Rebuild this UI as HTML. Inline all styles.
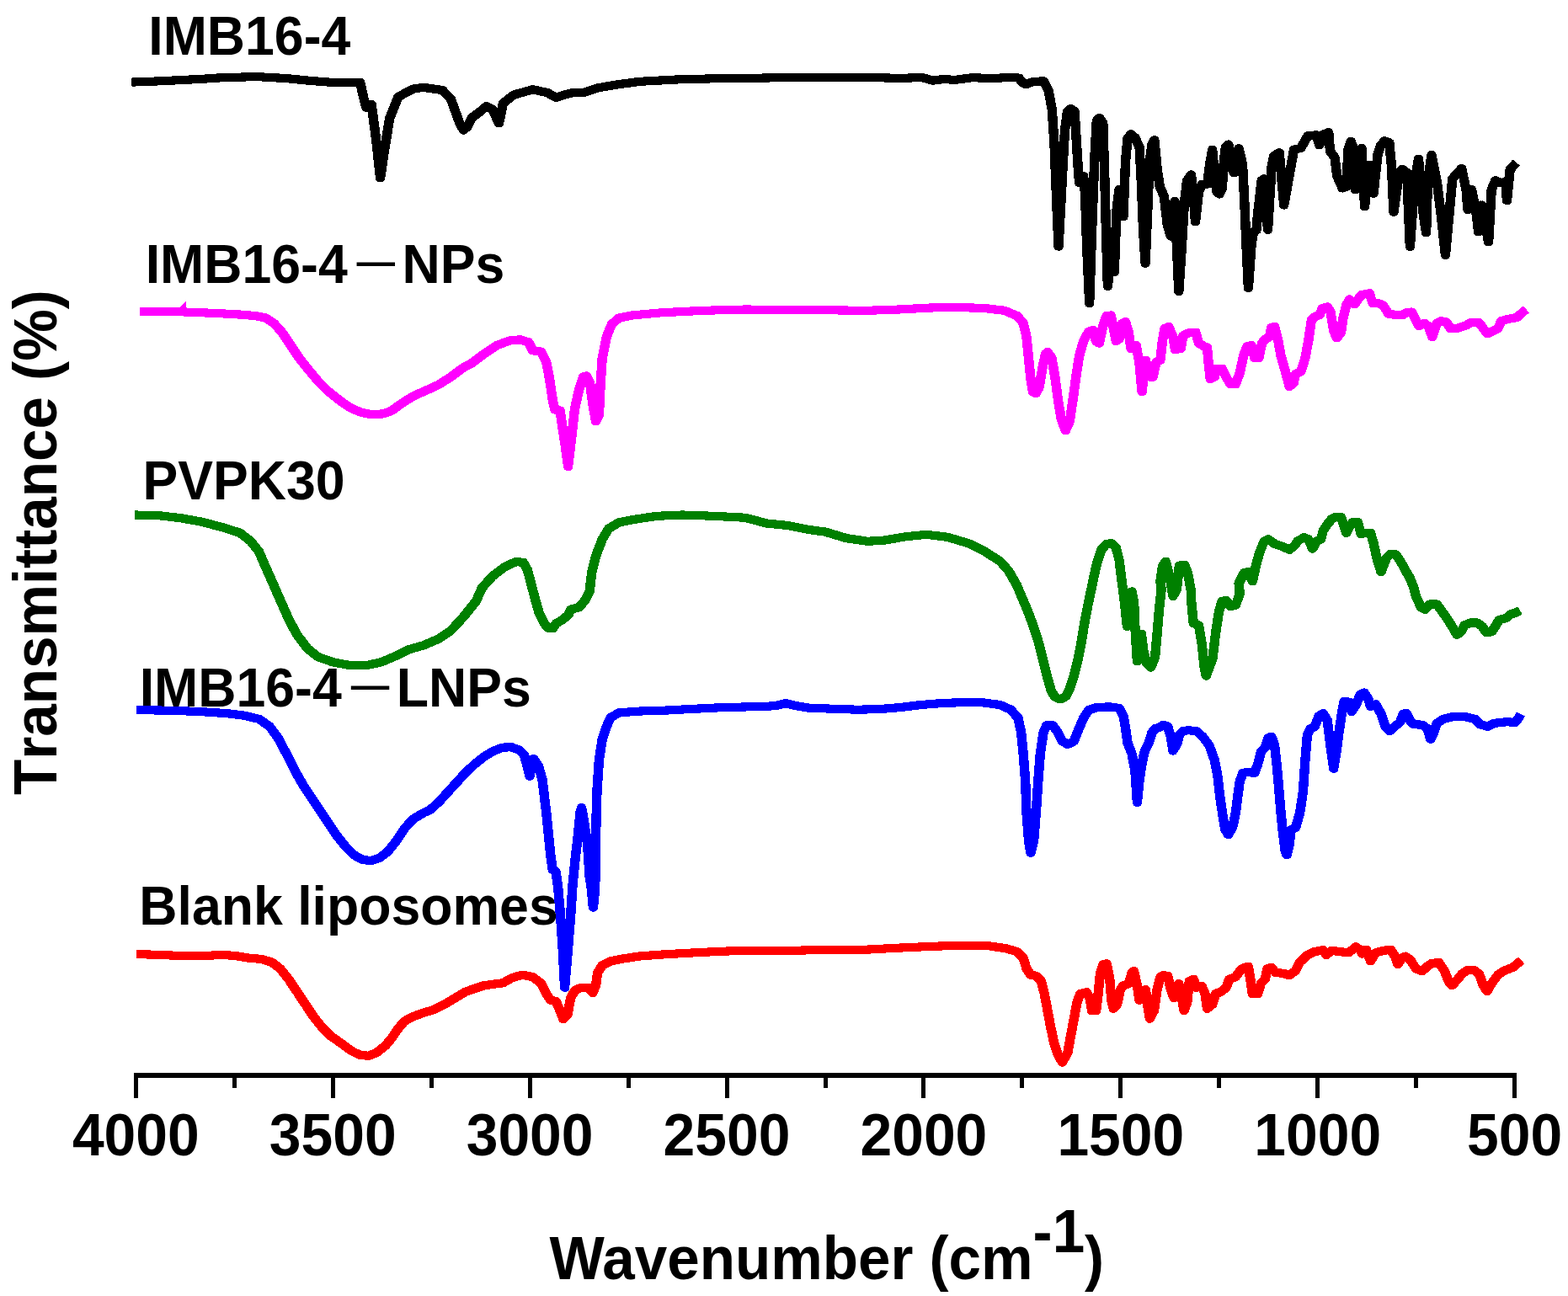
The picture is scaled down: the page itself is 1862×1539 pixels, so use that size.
<!DOCTYPE html>
<html lang="en">
<head>
<meta charset="utf-8">
<title>FTIR spectra</title>
<style>
html,body{margin:0;padding:0;background:#fff;}
body{width:1862px;height:1539px;overflow:hidden;}
svg{display:block;}
text{font-family:"Liberation Sans","Noto Sans CJK SC",sans-serif;font-weight:bold;fill:#000;font-kerning:none;}
.tick{font-size:67.8px;text-anchor:middle;}
.lab{font-size:62.6px;}
.ttl{font-size:69.2px;}
.kern{font-kerning:normal;}
.sup{font-size:69.2px;}
.curve{fill:none;stroke-width:10.1;stroke-linejoin:round;stroke-linecap:butt;}
.dash{font-weight:normal;}
</style>
</head>
<body>
<svg width="1862" height="1539" viewBox="0 0 1862 1539">
<rect x="0" y="0" width="1862" height="1539" fill="#ffffff"/>
<text class="lab" transform="translate(176.3,65) scale(1,1.04)">IMB16-4</text>
<text class="lab" transform="translate(172.7,336) scale(1,1.04)">IMB16-4<tspan class="dash" dx="2.2" dy="1.8">－</tspan><tspan dx="0" dy="-1.8">NPs</tspan></text>
<text class="lab" transform="translate(169.5,592.8) scale(1,1.04)">PVPK30</text>
<text class="lab" transform="translate(165.7,839) scale(1,1.04)">IMB16-4<tspan class="dash" dx="2.5" dy="1.8">－</tspan><tspan dx="0" dy="-1.8">LNPs</tspan></text>
<text class="lab" transform="translate(165.3,1098) scale(1,1.04)">Blank liposomes</text>
<text class="ttl kern" transform="translate(652.5,1519) scale(1,1.04)">Wavenumber (cm<tspan class="sup" dy="-31">-1</tspan><tspan dy="31">)</tspan></text>
<text class="ttl" transform="translate(67,944) rotate(-90) scale(1,1.04)">Transmittance (%)</text>
<text class="tick" transform="translate(161.3,1372) scale(1,1.04)">4000</text>
<text class="tick" transform="translate(395.2,1372) scale(1,1.04)">3500</text>
<text class="tick" transform="translate(629.1,1372) scale(1,1.04)">3000</text>
<text class="tick" transform="translate(863,1372) scale(1,1.04)">2500</text>
<text class="tick" transform="translate(1096.9,1372) scale(1,1.04)">2000</text>
<text class="tick" transform="translate(1330.8,1372) scale(1,1.04)">1500</text>
<text class="tick" transform="translate(1564.7,1372) scale(1,1.04)">1000</text>
<text class="tick" transform="translate(1798.6,1372) scale(1,1.04)">500</text>
<polyline class="curve" shape-rendering="crispEdges" stroke="#ff0000" points="162.35,1133.1 189.45,1133.9 214.45,1135.1 239.45,1135.1 264.45,1133.9 279.45,1135.1 294.55,1137.6 309.55,1138.9 322.05,1142.6 332.05,1150.2 342.05,1162.7 352.05,1177.7 362.05,1192.7 372.05,1207.7 382.05,1220.2 392.15,1230.2 404.65,1239 417.15,1248.2 427.15,1253 437.15,1253.8 447.15,1249.7 457.15,1241.5 464.65,1232.7 472.15,1221.5 479.65,1212.7 489.75,1207.2 502.25,1202.7 514.75,1198.9 527.25,1192.7 539.75,1185.2 552.25,1177.7 559.35,1175.2 574.35,1170.2 596.85,1167.2 606.85,1161.4 619.45,1157.7 631.95,1160.2 641.95,1167.7 648.15,1180.2 653.15,1187.7 659.45,1188.9 664.45,1200.2 668.25,1210.2 673.25,1205.2 676.95,1185.2 681.95,1176.4 689.45,1172.7 698.25,1172.7 703.25,1178.9 706.95,1170.2 708.95,1155.2 714.55,1146.4 724.55,1141.4 739.55,1138.4 759.55,1135.4 784.55,1133.6 809.65,1132.1 834.65,1130.8 872.15,1129.1 934.75,1128.9 972.25,1128.1 979.35,1128.1 1029.45,1127.6 1066.95,1125.6 1104.45,1123.9 1142.05,1122.6 1174.55,1123.4 1194.55,1126.4 1207.05,1130.1 1214.55,1137.6 1218.35,1150.2 1223.35,1157.7 1229.65,1158.9 1235.85,1165.2 1239.65,1180.2 1243.35,1200.2 1247.15,1220.2 1250.85,1237.7 1255.85,1252.8 1260.85,1261.5 1267.15,1250.3 1270.85,1230.2 1274.65,1210.2 1278.35,1190.2 1282.15,1180.2 1289.65,1178.2 1293.45,1185.2 1295.95,1200.2 1300.95,1200.2 1303.45,1180.2 1305.95,1155.2 1309.65,1145.1 1313.45,1144.4 1317.15,1162.7 1319.15,1187.7 1321.65,1197.7 1325.95,1192.7 1329.75,1175.2 1333.45,1170.2 1339.75,1168.2 1343.45,1155.2 1345.95,1153.2 1349.75,1170.2 1352.25,1187.7 1355.95,1180.2 1359.75,1175.2 1362.25,1195.2 1364.75,1209.7 1369.75,1200.2 1373.45,1175.2 1377.25,1160.2 1381.05,1158.2 1386.05,1158.9 1389.75,1175.2 1393.55,1185.2 1397.35,1172.7 1399.15,1168.2 1402.85,1185.2 1405.35,1200.2 1409.15,1190.2 1411.65,1165.2 1416.65,1162.7 1420.35,1172.7 1426.65,1171.4 1430.35,1180.2 1432.85,1197.7 1439.15,1192.7 1442.85,1180.2 1449.15,1177.7 1455.45,1172.7 1459.15,1162.7 1466.65,1160.2 1472.95,1151.4 1477.95,1148.9 1481.65,1147.6 1484.15,1162.7 1486.65,1180.2 1492.95,1180.2 1496.75,1167.7 1501.75,1162.7 1504.25,1150.2 1509.25,1148.9 1514.25,1155.2 1522.95,1155.7 1530.45,1158.2 1537.95,1152.7 1542.95,1142.6 1550.55,1135.1 1560.55,1130.1 1570.55,1128.1 1574.25,1133.9 1580.55,1128.9 1590.55,1130.1 1600.55,1131.4 1605.55,1127.6 1609.35,1124.4 1614.35,1127.6 1616.85,1132.6 1621.85,1127.6 1626.85,1141.4 1633.05,1131.4 1641.85,1128.9 1650.65,1127.6 1655.65,1135.1 1659.35,1145.1 1664.35,1137.6 1668.15,1135.6 1674.35,1140.1 1680.65,1150.2 1688.15,1153.2 1694.35,1147.6 1699.45,1143.9 1708.15,1143.1 1714.45,1152.7 1719.45,1165.2 1723.65,1170.2 1729.45,1163.9 1735.65,1156.4 1741.95,1152.2 1749.45,1151.9 1755.75,1156.4 1760.75,1170.2 1765.25,1177.2 1770.75,1167.7 1778.25,1157.7 1785.75,1152.7 1795.75,1148.9 1805.75,1140.6"/>
<polyline class="curve" shape-rendering="crispEdges" stroke="#ff0000" points="163.65,1133.1 190.75,1133.9 215.75,1135.1 240.75,1135.1 265.75,1133.9 280.75,1135.1 295.85,1137.6 310.85,1138.9 323.35,1142.6 333.35,1150.2 343.35,1162.7 353.35,1177.7 363.35,1192.7 373.35,1207.7 383.35,1220.2 393.45,1230.2 405.95,1239 418.45,1248.2 428.45,1253 438.45,1253.8 448.45,1249.7 458.45,1241.5 465.95,1232.7 473.45,1221.5 480.95,1212.7 491.05,1207.2 503.55,1202.7 516.05,1198.9 528.55,1192.7 541.05,1185.2 553.55,1177.7 560.65,1175.2 575.65,1170.2 598.15,1167.2 608.15,1161.4 620.75,1157.7 633.25,1160.2 643.25,1167.7 649.45,1180.2 654.45,1187.7 660.75,1188.9 665.75,1200.2 669.55,1210.2 674.55,1205.2 678.25,1185.2 683.25,1176.4 690.75,1172.7 699.55,1172.7 704.55,1178.9 708.25,1170.2 710.25,1155.2 715.85,1146.4 725.85,1141.4 740.85,1138.4 760.85,1135.4 785.85,1133.6 810.95,1132.1 835.95,1130.8 873.45,1129.1 936.05,1128.9 973.55,1128.1 980.65,1128.1 1030.75,1127.6 1068.25,1125.6 1105.75,1123.9 1143.35,1122.6 1175.85,1123.4 1195.85,1126.4 1208.35,1130.1 1215.85,1137.6 1219.65,1150.2 1224.65,1157.7 1230.95,1158.9 1237.15,1165.2 1240.95,1180.2 1244.65,1200.2 1248.45,1220.2 1252.15,1237.7 1257.15,1252.8 1262.15,1261.5 1268.45,1250.3 1272.15,1230.2 1275.95,1210.2 1279.65,1190.2 1283.45,1180.2 1290.95,1178.2 1294.75,1185.2 1297.25,1200.2 1302.25,1200.2 1304.75,1180.2 1307.25,1155.2 1310.95,1145.1 1314.75,1144.4 1318.45,1162.7 1320.45,1187.7 1322.95,1197.7 1327.25,1192.7 1331.05,1175.2 1334.75,1170.2 1341.05,1168.2 1344.75,1155.2 1347.25,1153.2 1351.05,1170.2 1353.55,1187.7 1357.25,1180.2 1361.05,1175.2 1363.55,1195.2 1366.05,1209.7 1371.05,1200.2 1374.75,1175.2 1378.55,1160.2 1382.35,1158.2 1387.35,1158.9 1391.05,1175.2 1394.85,1185.2 1398.65,1172.7 1400.45,1168.2 1404.15,1185.2 1406.65,1200.2 1410.45,1190.2 1412.95,1165.2 1417.95,1162.7 1421.65,1172.7 1427.95,1171.4 1431.65,1180.2 1434.15,1197.7 1440.45,1192.7 1444.15,1180.2 1450.45,1177.7 1456.75,1172.7 1460.45,1162.7 1467.95,1160.2 1474.25,1151.4 1479.25,1148.9 1482.95,1147.6 1485.45,1162.7 1487.95,1180.2 1494.25,1180.2 1498.05,1167.7 1503.05,1162.7 1505.55,1150.2 1510.55,1148.9 1515.55,1155.2 1524.25,1155.7 1531.75,1158.2 1539.25,1152.7 1544.25,1142.6 1551.85,1135.1 1561.85,1130.1 1571.85,1128.1 1575.55,1133.9 1581.85,1128.9 1591.85,1130.1 1601.85,1131.4 1606.85,1127.6 1610.65,1124.4 1615.65,1127.6 1618.15,1132.6 1623.15,1127.6 1628.15,1141.4 1634.35,1131.4 1643.15,1128.9 1651.95,1127.6 1656.95,1135.1 1660.65,1145.1 1665.65,1137.6 1669.45,1135.6 1675.65,1140.1 1681.95,1150.2 1689.45,1153.2 1695.65,1147.6 1700.75,1143.9 1709.45,1143.1 1715.75,1152.7 1720.75,1165.2 1724.95,1170.2 1730.75,1163.9 1736.95,1156.4 1743.25,1152.2 1750.75,1151.9 1757.05,1156.4 1762.05,1170.2 1766.55,1177.2 1772.05,1167.7 1779.55,1157.7 1787.05,1152.7 1797.05,1148.9 1807.05,1140.6"/>
<polyline class="curve" shape-rendering="crispEdges" stroke="#0000ff" points="162.35,843.2 201.95,843.7 239.45,845.2 269.45,847.2 289.55,849.7 307.05,853.9 319.55,862.7 329.55,876.4 339.55,895.2 349.55,915.2 359.55,932.7 369.55,947.8 379.55,962.8 389.65,977.8 399.65,992.8 409.65,1005.3 419.65,1015.3 429.65,1020.8 439.65,1022.1 449.65,1019.1 459.65,1011.6 469.65,999.1 479.65,984 489.75,972.8 502.25,965.3 510.05,961.7 520.85,952 531.55,940.2 542.35,928.4 553.05,916.6 563.75,906.9 574.55,898.3 585.25,891.9 596.05,887.6 606.75,887.3 615.35,890.3 621.75,896.2 625.55,910.2 628.25,921.8 633.05,901 638.95,910.2 643.25,925.2 648.15,965.3 650.65,990.3 653.15,1015.3 655.65,1032.8 659.45,1035.3 661.95,1052.9 664.95,1087.6 667.45,1125.1 669.95,1172.7 673.95,1125.1 676.95,1087.6 679.45,1050.1 682.45,1020 685.95,990.3 688.25,965.3 689.95,959 693.25,977.8 696.95,1002.8 699.45,1040.4 701.95,1057.6 703.75,1077.6 705.75,1057.6 706.95,1025 706.95,990.3 708.25,940.3 710.75,902.7 714.55,877.7 719.55,862.9 724.55,851.9 734.55,846.4 759.55,844.5 784.55,843.9 809.65,842.5 859.65,840 909.75,838.9 922.25,837.6 932.25,835.1 944.75,838.1 959.75,840.7 972.25,841.4 979.35,841.4 1016.85,842.7 1041.95,842.2 1066.95,840.2 1091.95,837.1 1116.95,835.1 1142.05,834.1 1167.05,834.4 1187.05,837.1 1199.55,842.7 1208.35,852.7 1212.05,870.2 1214.55,895.2 1217.05,927.7 1218.35,965.3 1220.85,997.8 1223.35,1012.8 1227.05,997.8 1229.65,965.3 1232.15,927.7 1234.65,895.2 1238.35,870.2 1242.15,861.4 1249.65,861.4 1255.85,870.2 1260.85,880.2 1267.15,883.9 1274.65,880.2 1279.65,867.7 1285.95,852.7 1292.15,843.2 1302.15,839.9 1317.15,839.4 1328.45,840.9 1333.45,850.2 1335.95,865.2 1338.45,882.7 1343.45,895.2 1347.25,915.2 1349.75,952.8 1352.25,927.7 1354.75,910.2 1358.45,892.7 1363.45,882.7 1367.25,870.2 1370.95,865.2 1375.95,863.9 1381.05,860.7 1386.05,862.7 1389.75,875.2 1392.25,891.5 1397.35,882.7 1399.85,872.7 1404.15,868.2 1410.35,867.2 1420.35,868.2 1427.85,875.2 1435.35,885.2 1441.65,902.7 1445.45,922.7 1447.95,945.3 1451.65,970.3 1454.15,985.3 1457.95,991.1 1462.95,982.8 1466.65,965.3 1469.15,945.3 1471.65,927.7 1475.45,917.7 1481.65,917.2 1489.15,917.7 1492.95,907.7 1496.75,892.7 1501.75,887.7 1505.45,876.4 1509.25,874.7 1512.95,885.2 1515.45,907.7 1517.95,935.2 1520.45,965.3 1522.95,990.3 1525.45,1010.3 1527.45,1015.3 1530.45,1002.8 1532.45,985.3 1537.95,982.8 1542.95,965.3 1546.75,940.3 1549.25,902.7 1551.75,872.7 1555.55,865.2 1560.55,862.7 1565.55,850.2 1570.55,847.2 1575.55,855.2 1579.25,885.2 1583.05,912.7 1586.75,890.2 1589.25,870.2 1593.05,845.2 1595.55,832.6 1601.85,833.9 1604.35,845.2 1609.35,837.6 1614.35,825.1 1619.35,822.6 1624.35,830.1 1626.85,838.9 1633.05,836.4 1639.35,847.7 1644.35,862.7 1649.35,868.2 1655.65,862.7 1661.85,857.7 1665.65,847.7 1669.35,846.9 1674.35,856.4 1678.15,860.2 1688.15,860.7 1694.35,865.2 1698.15,877.7 1701.95,870.2 1705.65,858.9 1713.15,853.9 1723.15,851.4 1738.15,850.9 1750.75,853.9 1756.95,860.2 1765.75,862.7 1773.25,858.9 1783.25,857.7 1790.75,857.2 1798.25,858.2 1802.75,852.7 1805.05,848.2"/>
<polyline class="curve" shape-rendering="crispEdges" stroke="#0000ff" points="163.65,843.2 203.25,843.7 240.75,845.2 270.75,847.2 290.85,849.7 308.35,853.9 320.85,862.7 330.85,876.4 340.85,895.2 350.85,915.2 360.85,932.7 370.85,947.8 380.85,962.8 390.95,977.8 400.95,992.8 410.95,1005.3 420.95,1015.3 430.95,1020.8 440.95,1022.1 450.95,1019.1 460.95,1011.6 470.95,999.1 480.95,984 491.05,972.8 503.55,965.3 511.35,961.7 522.15,952 532.85,940.2 543.65,928.4 554.35,916.6 565.05,906.9 575.85,898.3 586.55,891.9 597.35,887.6 608.05,887.3 616.65,890.3 623.05,896.2 626.85,910.2 629.55,921.8 634.35,901 640.25,910.2 644.55,925.2 649.45,965.3 651.95,990.3 654.45,1015.3 656.95,1032.8 660.75,1035.3 663.25,1052.9 666.25,1087.6 668.75,1125.1 671.25,1172.7 675.25,1125.1 678.25,1087.6 680.75,1050.1 683.75,1020 687.25,990.3 689.55,965.3 691.25,959 694.55,977.8 698.25,1002.8 700.75,1040.4 703.25,1057.6 705.05,1077.6 707.05,1057.6 708.25,1025 708.25,990.3 709.55,940.3 712.05,902.7 715.85,877.7 720.85,862.9 725.85,851.9 735.85,846.4 760.85,844.5 785.85,843.9 810.95,842.5 860.95,840 911.05,838.9 923.55,837.6 933.55,835.1 946.05,838.1 961.05,840.7 973.55,841.4 980.65,841.4 1018.15,842.7 1043.25,842.2 1068.25,840.2 1093.25,837.1 1118.25,835.1 1143.35,834.1 1168.35,834.4 1188.35,837.1 1200.85,842.7 1209.65,852.7 1213.35,870.2 1215.85,895.2 1218.35,927.7 1219.65,965.3 1222.15,997.8 1224.65,1012.8 1228.35,997.8 1230.95,965.3 1233.45,927.7 1235.95,895.2 1239.65,870.2 1243.45,861.4 1250.95,861.4 1257.15,870.2 1262.15,880.2 1268.45,883.9 1275.95,880.2 1280.95,867.7 1287.25,852.7 1293.45,843.2 1303.45,839.9 1318.45,839.4 1329.75,840.9 1334.75,850.2 1337.25,865.2 1339.75,882.7 1344.75,895.2 1348.55,915.2 1351.05,952.8 1353.55,927.7 1356.05,910.2 1359.75,892.7 1364.75,882.7 1368.55,870.2 1372.25,865.2 1377.25,863.9 1382.35,860.7 1387.35,862.7 1391.05,875.2 1393.55,891.5 1398.65,882.7 1401.15,872.7 1405.45,868.2 1411.65,867.2 1421.65,868.2 1429.15,875.2 1436.65,885.2 1442.95,902.7 1446.75,922.7 1449.25,945.3 1452.95,970.3 1455.45,985.3 1459.25,991.1 1464.25,982.8 1467.95,965.3 1470.45,945.3 1472.95,927.7 1476.75,917.7 1482.95,917.2 1490.45,917.7 1494.25,907.7 1498.05,892.7 1503.05,887.7 1506.75,876.4 1510.55,874.7 1514.25,885.2 1516.75,907.7 1519.25,935.2 1521.75,965.3 1524.25,990.3 1526.75,1010.3 1528.75,1015.3 1531.75,1002.8 1533.75,985.3 1539.25,982.8 1544.25,965.3 1548.05,940.3 1550.55,902.7 1553.05,872.7 1556.85,865.2 1561.85,862.7 1566.85,850.2 1571.85,847.2 1576.85,855.2 1580.55,885.2 1584.35,912.7 1588.05,890.2 1590.55,870.2 1594.35,845.2 1596.85,832.6 1603.15,833.9 1605.65,845.2 1610.65,837.6 1615.65,825.1 1620.65,822.6 1625.65,830.1 1628.15,838.9 1634.35,836.4 1640.65,847.7 1645.65,862.7 1650.65,868.2 1656.95,862.7 1663.15,857.7 1666.95,847.7 1670.65,846.9 1675.65,856.4 1679.45,860.2 1689.45,860.7 1695.65,865.2 1699.45,877.7 1703.25,870.2 1706.95,858.9 1714.45,853.9 1724.45,851.4 1739.45,850.9 1752.05,853.9 1758.25,860.2 1767.05,862.7 1774.55,858.9 1784.55,857.7 1792.05,857.2 1799.55,858.2 1804.05,852.7 1806.35,848.2"/>
<polyline class="curve" shape-rendering="crispEdges" stroke="#008000" points="160.15,611.5 189.45,612.3 214.45,615.3 239.45,619.8 264.45,626.5 284.45,632.8 297.05,642.8 307.05,655.3 314.55,672.8 324.55,695.4 332.05,712.5 342.05,735 352.05,753.8 364.55,770.1 377.05,780.1 394.65,786.3 414.65,790.1 434.65,790.1 452.15,786.3 469.65,778.8 484.65,771.3 502.25,766.3 519.75,758.8 534.75,748.8 549.75,732.5 564.75,713.8 571.85,697.9 584.35,684.1 599.35,672.8 611.95,667.1 620.65,667.8 625.65,676.6 630.65,695.4 634.45,710 639.45,727.5 645.65,740.1 649.95,745.6 655.65,746.3 659.95,740.1 666.95,736.3 674.45,730 676.95,723.8 686.95,721.3 694.45,712.5 699.45,702.5 701.95,680.4 706.95,660.3 714.55,640.3 722.05,627.8 734.55,620.3 754.55,616.5 779.55,612.8 809.65,611.5 847.15,612.8 884.65,614.8 909.75,621.5 934.75,624 959.75,629 979.35,631.6 1004.35,639.1 1029.45,642.8 1049.45,641.6 1074.45,637.3 1099.45,634.8 1124.45,637.8 1149.55,645.3 1169.55,655.3 1187.05,666.6 1197.05,677.8 1207.05,695.4 1212.05,707.5 1219.55,725 1227.05,745.1 1233.35,765.1 1238.35,785.1 1243.35,805.1 1247.65,820.1 1251.65,827.1 1255.85,829.6 1260.85,829.6 1265.15,826.6 1269.65,817.6 1274.65,802.6 1279.65,782.6 1283.45,762.6 1287.15,740.1 1290.95,720 1294.65,702.5 1297.15,690.4 1302.15,667.8 1307.15,652.8 1313.45,645.8 1319.65,645.3 1324.65,650.3 1328.45,665.3 1330.95,685.4 1334.75,715 1337.75,743.8 1340.95,710 1343.45,702.5 1345.95,715 1347.25,745.1 1349.75,785.1 1353.45,765.1 1354.75,752.6 1357.25,772.6 1360.95,787.6 1365.95,792.6 1370.95,780.1 1373.45,752.6 1375.95,722.5 1378.45,700 1377.25,690.4 1379.75,672.8 1383.55,666.6 1388.55,685.4 1392.25,708 1396.75,700 1399.75,671.6 1406.05,670.8 1409.75,680.4 1413.55,700.4 1414.15,715 1416.65,740.1 1422.85,742.6 1426.65,765.1 1429.15,790.1 1431.65,802.6 1435.35,792.6 1439.15,782.6 1442.85,752.6 1446.65,727.5 1450.45,713.8 1455.45,713 1460.45,720 1466.65,718.8 1471.65,705 1470.45,692.9 1476.65,680.4 1481.65,679.1 1486.65,690.4 1491.65,667.8 1495.45,655.3 1500.45,642.8 1505.45,640.3 1512.95,645.8 1522.95,649.1 1530.45,652.8 1536.75,647.8 1540.45,642.3 1548.05,638.3 1553.05,640.3 1558.05,651.6 1563.05,642.8 1568.05,640.3 1570.55,630.3 1575.55,622.8 1580.55,616.5 1585.55,614 1591.75,614 1595.55,625.3 1598.05,632.8 1601.85,625.3 1605.55,620.3 1611.85,620.3 1615.55,634.1 1620.55,632.8 1626.85,632.8 1630.55,645.3 1634.35,662.8 1639.35,679.1 1645.65,662.8 1650.65,657.8 1656.85,658.3 1663.15,667.8 1669.35,679.1 1673.15,685.4 1678.15,697.9 1680.65,707.5 1686.85,721.3 1691.85,723.8 1696.95,717.5 1705.65,717.5 1711.95,726.3 1718.15,735 1724.45,745.1 1729.45,753.8 1734.45,750.1 1738.15,742.6 1745.75,739.5 1753.25,739.5 1759.45,743.8 1764.45,751.3 1770.75,750.1 1775.75,742.6 1779.45,736.3 1788.25,733.8 1793.25,729.5 1799.55,727.5 1803.75,725"/>
<polyline class="curve" shape-rendering="crispEdges" stroke="#008000" points="161.45,611.5 190.75,612.3 215.75,615.3 240.75,619.8 265.75,626.5 285.75,632.8 298.35,642.8 308.35,655.3 315.85,672.8 325.85,695.4 333.35,712.5 343.35,735 353.35,753.8 365.85,770.1 378.35,780.1 395.95,786.3 415.95,790.1 435.95,790.1 453.45,786.3 470.95,778.8 485.95,771.3 503.55,766.3 521.05,758.8 536.05,748.8 551.05,732.5 566.05,713.8 573.15,697.9 585.65,684.1 600.65,672.8 613.25,667.1 621.95,667.8 626.95,676.6 631.95,695.4 635.75,710 640.75,727.5 646.95,740.1 651.25,745.6 656.95,746.3 661.25,740.1 668.25,736.3 675.75,730 678.25,723.8 688.25,721.3 695.75,712.5 700.75,702.5 703.25,680.4 708.25,660.3 715.85,640.3 723.35,627.8 735.85,620.3 755.85,616.5 780.85,612.8 810.95,611.5 848.45,612.8 885.95,614.8 911.05,621.5 936.05,624 961.05,629 980.65,631.6 1005.65,639.1 1030.75,642.8 1050.75,641.6 1075.75,637.3 1100.75,634.8 1125.75,637.8 1150.85,645.3 1170.85,655.3 1188.35,666.6 1198.35,677.8 1208.35,695.4 1213.35,707.5 1220.85,725 1228.35,745.1 1234.65,765.1 1239.65,785.1 1244.65,805.1 1248.95,820.1 1252.95,827.1 1257.15,829.6 1262.15,829.6 1266.45,826.6 1270.95,817.6 1275.95,802.6 1280.95,782.6 1284.75,762.6 1288.45,740.1 1292.25,720 1295.95,702.5 1298.45,690.4 1303.45,667.8 1308.45,652.8 1314.75,645.8 1320.95,645.3 1325.95,650.3 1329.75,665.3 1332.25,685.4 1336.05,715 1339.05,743.8 1342.25,710 1344.75,702.5 1347.25,715 1348.55,745.1 1351.05,785.1 1354.75,765.1 1356.05,752.6 1358.55,772.6 1362.25,787.6 1367.25,792.6 1372.25,780.1 1374.75,752.6 1377.25,722.5 1379.75,700 1378.55,690.4 1381.05,672.8 1384.85,666.6 1389.85,685.4 1393.55,708 1398.05,700 1401.05,671.6 1407.35,670.8 1411.05,680.4 1414.85,700.4 1415.45,715 1417.95,740.1 1424.15,742.6 1427.95,765.1 1430.45,790.1 1432.95,802.6 1436.65,792.6 1440.45,782.6 1444.15,752.6 1447.95,727.5 1451.75,713.8 1456.75,713 1461.75,720 1467.95,718.8 1472.95,705 1471.75,692.9 1477.95,680.4 1482.95,679.1 1487.95,690.4 1492.95,667.8 1496.75,655.3 1501.75,642.8 1506.75,640.3 1514.25,645.8 1524.25,649.1 1531.75,652.8 1538.05,647.8 1541.75,642.3 1549.35,638.3 1554.35,640.3 1559.35,651.6 1564.35,642.8 1569.35,640.3 1571.85,630.3 1576.85,622.8 1581.85,616.5 1586.85,614 1593.05,614 1596.85,625.3 1599.35,632.8 1603.15,625.3 1606.85,620.3 1613.15,620.3 1616.85,634.1 1621.85,632.8 1628.15,632.8 1631.85,645.3 1635.65,662.8 1640.65,679.1 1646.95,662.8 1651.95,657.8 1658.15,658.3 1664.45,667.8 1670.65,679.1 1674.45,685.4 1679.45,697.9 1681.95,707.5 1688.15,721.3 1693.15,723.8 1698.25,717.5 1706.95,717.5 1713.25,726.3 1719.45,735 1725.75,745.1 1730.75,753.8 1735.75,750.1 1739.45,742.6 1747.05,739.5 1754.55,739.5 1760.75,743.8 1765.75,751.3 1772.05,750.1 1777.05,742.6 1780.75,736.3 1789.55,733.8 1794.55,729.5 1800.85,727.5 1805.05,725"/>
<polyline class="curve" shape-rendering="crispEdges" stroke="#ff00ff" points="166.35,370 214.45,370.3 239.45,371.3 276.95,373 302.05,375 314.55,377.5 324.55,383.8 334.55,395.1 344.55,410.1 354.55,425.1 364.55,437.6 377.05,452.6 389.65,465.1 402.15,475.1 414.65,483.9 427.15,489.4 439.65,492.2 454.65,491.4 464.65,487.7 474.65,480.2 489.75,470.6 504.75,463.9 519.75,457.1 534.75,447.6 549.75,436.4 559.35,431.4 574.35,420.1 589.35,410.1 604.35,404.6 616.95,403.3 626.95,406.3 631.95,416.3 641.95,417.6 648.15,430.1 651.95,450.1 655.65,475.1 658.15,486.4 664.45,487.7 666.95,505.2 670.75,530.2 673.95,554 678.25,517.7 681.95,485.2 686.95,462.6 691.95,447.6 695.75,446.4 699.95,455.1 703.25,480.2 706.95,500.2 710.75,492.7 712.55,455.1 714.55,425.1 719.55,400.1 725.75,385.1 734.55,377.5 749.55,374.5 784.55,371.3 834.65,368.8 884.65,367.5 934.75,368 979.35,368.3 1029.45,368.8 1066.95,367.5 1104.45,365.5 1129.55,365 1167.05,365.8 1192.05,368.8 1207.05,375 1214.55,383.8 1218.35,400.1 1220.85,425.1 1223.35,450.1 1225.85,465.1 1229.65,467.1 1233.35,460.1 1237.15,437.6 1240.85,420.1 1243.35,418.1 1248.35,425.1 1252.15,447.6 1255.85,475.1 1259.65,497.7 1264.65,511.4 1269.65,500.2 1273.35,475.1 1277.15,447.6 1280.95,422.6 1285.95,405.1 1292.15,393.8 1297.15,392.1 1300.95,405.1 1304.65,407.6 1309.65,385.1 1313.45,375 1318.45,374.5 1321.65,390.1 1324.65,405.1 1328.45,402.6 1332.25,383.8 1335.95,382.1 1339.75,395.1 1342.25,413.8 1348.45,410.1 1352.25,430.1 1355.45,465.1 1359.75,427.6 1364.75,447.6 1368.45,447.6 1372.25,430.1 1377.25,427.6 1379.75,405.1 1382.25,390.1 1387.25,388.1 1392.25,400.1 1394.75,415.1 1401.65,413.8 1404.15,398.8 1410.35,395.6 1419.15,394.6 1422.85,407.6 1429.15,411.3 1432.85,412.6 1434.85,435.1 1436.65,450.1 1441.65,447.6 1444.15,437.6 1450.45,437.6 1455.45,447.6 1460.45,456.4 1466.65,456.4 1471.65,442.6 1476.65,420.1 1480.45,411.3 1485.45,410.1 1489.15,425.1 1494.15,425.1 1497.95,407.6 1501.75,402.6 1506.75,400.1 1509.25,388.8 1512.95,388.1 1516.75,402.6 1520.45,422.6 1525.45,440.1 1530.45,458.9 1535.45,455.1 1537.95,443.9 1544.25,441.4 1549.25,425.1 1553.05,405.1 1556.75,380.1 1560.55,376.3 1566.75,373.8 1569.25,366.3 1575.55,364.5 1579.25,370 1583.05,392.6 1586.75,401.3 1591.75,395.1 1594.25,377.5 1598.05,362.5 1601.85,355.5 1608.05,361.3 1613.05,353.8 1616.85,350 1625.55,348.3 1629.35,360 1635.55,360 1641.85,362.5 1648.15,372.5 1655.65,373.8 1665.65,373.8 1669.35,371.3 1675.65,370.5 1680.65,380.1 1684.35,387.1 1690.65,383.8 1695.65,387.6 1700.15,400.1 1705.65,383.8 1710.65,381.3 1716.95,382.6 1721.95,390.1 1730.65,389.6 1740.65,386.3 1745.75,383.1 1755.75,383.1 1760.75,390.1 1765.75,396.3 1773.25,392.6 1778.25,390.1 1781.95,381.3 1790.75,378.8 1800.75,377 1811.25,367.5"/>
<polyline class="curve" shape-rendering="crispEdges" stroke="#ff00ff" points="167.65,370 215.75,370.3 240.75,371.3 278.25,373 303.35,375 315.85,377.5 325.85,383.8 335.85,395.1 345.85,410.1 355.85,425.1 365.85,437.6 378.35,452.6 390.95,465.1 403.45,475.1 415.95,483.9 428.45,489.4 440.95,492.2 455.95,491.4 465.95,487.7 475.95,480.2 491.05,470.6 506.05,463.9 521.05,457.1 536.05,447.6 551.05,436.4 560.65,431.4 575.65,420.1 590.65,410.1 605.65,404.6 618.25,403.3 628.25,406.3 633.25,416.3 643.25,417.6 649.45,430.1 653.25,450.1 656.95,475.1 659.45,486.4 665.75,487.7 668.25,505.2 672.05,530.2 675.25,554 679.55,517.7 683.25,485.2 688.25,462.6 693.25,447.6 697.05,446.4 701.25,455.1 704.55,480.2 708.25,500.2 712.05,492.7 713.85,455.1 715.85,425.1 720.85,400.1 727.05,385.1 735.85,377.5 750.85,374.5 785.85,371.3 835.95,368.8 885.95,367.5 936.05,368 980.65,368.3 1030.75,368.8 1068.25,367.5 1105.75,365.5 1130.85,365 1168.35,365.8 1193.35,368.8 1208.35,375 1215.85,383.8 1219.65,400.1 1222.15,425.1 1224.65,450.1 1227.15,465.1 1230.95,467.1 1234.65,460.1 1238.45,437.6 1242.15,420.1 1244.65,418.1 1249.65,425.1 1253.45,447.6 1257.15,475.1 1260.95,497.7 1265.95,511.4 1270.95,500.2 1274.65,475.1 1278.45,447.6 1282.25,422.6 1287.25,405.1 1293.45,393.8 1298.45,392.1 1302.25,405.1 1305.95,407.6 1310.95,385.1 1314.75,375 1319.75,374.5 1322.95,390.1 1325.95,405.1 1329.75,402.6 1333.55,383.8 1337.25,382.1 1341.05,395.1 1343.55,413.8 1349.75,410.1 1353.55,430.1 1356.75,465.1 1361.05,427.6 1366.05,447.6 1369.75,447.6 1373.55,430.1 1378.55,427.6 1381.05,405.1 1383.55,390.1 1388.55,388.1 1393.55,400.1 1396.05,415.1 1402.95,413.8 1405.45,398.8 1411.65,395.6 1420.45,394.6 1424.15,407.6 1430.45,411.3 1434.15,412.6 1436.15,435.1 1437.95,450.1 1442.95,447.6 1445.45,437.6 1451.75,437.6 1456.75,447.6 1461.75,456.4 1467.95,456.4 1472.95,442.6 1477.95,420.1 1481.75,411.3 1486.75,410.1 1490.45,425.1 1495.45,425.1 1499.25,407.6 1503.05,402.6 1508.05,400.1 1510.55,388.8 1514.25,388.1 1518.05,402.6 1521.75,422.6 1526.75,440.1 1531.75,458.9 1536.75,455.1 1539.25,443.9 1545.55,441.4 1550.55,425.1 1554.35,405.1 1558.05,380.1 1561.85,376.3 1568.05,373.8 1570.55,366.3 1576.85,364.5 1580.55,370 1584.35,392.6 1588.05,401.3 1593.05,395.1 1595.55,377.5 1599.35,362.5 1603.15,355.5 1609.35,361.3 1614.35,353.8 1618.15,350 1626.85,348.3 1630.65,360 1636.85,360 1643.15,362.5 1649.45,372.5 1656.95,373.8 1666.95,373.8 1670.65,371.3 1676.95,370.5 1681.95,380.1 1685.65,387.1 1691.95,383.8 1696.95,387.6 1701.45,400.1 1706.95,383.8 1711.95,381.3 1718.25,382.6 1723.25,390.1 1731.95,389.6 1741.95,386.3 1747.05,383.1 1757.05,383.1 1762.05,390.1 1767.05,396.3 1774.55,392.6 1779.55,390.1 1783.25,381.3 1792.05,378.8 1802.05,377 1812.55,367.5"/>
<polyline class="curve" shape-rendering="crispEdges" stroke="#000000" points="156.35,97.6 189.45,96.3 239.45,93.8 264.45,92.1 304.55,91.1 339.55,93.1 364.55,95.6 389.65,97.6 427.15,98.1 430.85,115.1 434.15,127.6 440.45,123.8 445.95,165.1 450.95,211.4 455.95,177.6 462.15,140.1 472.15,115.1 489.75,105.6 502.25,103.8 524.75,107.1 534.75,117.6 544.75,145.1 549.75,154.6 554.75,150.1 559.35,140.1 569.35,132.6 576.85,126.3 584.35,130.1 591.85,146.4 596.85,122.6 609.45,112.6 631.95,106.3 649.45,110.1 659.45,115.8 669.45,112.6 679.45,110.1 691.95,110.1 709.55,104.3 734.55,100.1 759.55,96.8 809.65,94.1 859.65,93.1 934.75,92.2 1025.35,91.8 1029.35,92.1 1069.45,92.8 1094.45,92.1 1106.95,95.6 1121.95,93.8 1131.95,95.1 1154.55,92.1 1174.55,93.1 1197.05,92.1 1199.35,91.8 1209.45,92.6 1213.45,98.2 1217.45,100.2 1225.55,97.2 1238.65,96.2 1244.65,108.3 1248.65,130.4 1251.35,170.7 1253.75,231.1 1256.35,292.6 1260.75,211 1263.85,154.6 1266.85,132.4 1270.85,129 1275.45,132.4 1277.85,170.7 1279.55,198.9 1280.95,217 1285.95,209 1287.95,231.1 1289.95,291.6 1293.05,360 1296.05,271.4 1299.05,190.8 1301.65,143.5 1305.05,140.1 1309.15,146.5 1311.15,211 1312.75,271.4 1314.75,339.9 1319.15,291.6 1322.65,322.8 1325.25,251.3 1328.25,225.1 1333.25,257.3 1335.95,190.8 1338.35,164.7 1342.35,159.2 1347.35,163.7 1352.45,174.7 1354.45,211 1356.85,271.4 1359.45,312.7 1362.05,251.3 1364.55,190.8 1367.55,170.7 1370.15,166.3 1373.55,200.9 1376.55,221.1 1381.65,233.1 1385.65,267.4 1389.65,280.5 1394.35,239.2 1396.75,291.6 1399.15,345.9 1402.75,291.6 1405.75,241.2 1408.85,215 1413.85,207.4 1416.45,231.1 1418.85,263.4 1422.95,227.1 1426.95,218.6 1432.95,218.6 1436.05,194.9 1439.05,177.8 1442.05,211 1444.05,227.1 1447.45,230.5 1450.75,223.1 1452.75,190.8 1454.75,174.7 1458.15,171.5 1460.75,182.8 1461.55,198.9 1464.85,205.3 1468.25,194.9 1470.25,176.3 1474.85,194.9 1477.25,241.2 1479.35,291.6 1481.75,341.9 1485.35,291.6 1487.75,275.4 1491.35,273.4 1493.05,252.6 1497.55,214.3 1500.35,212.4 1504.85,272.7 1509.45,197.8 1512.15,185 1518.55,181.4 1524.05,243.5 1532.25,197.8 1535.95,177.7 1544.15,175.9 1552.35,161.3 1562.35,160.4 1566.05,172.3 1570.65,159.5 1577.05,157.3 1578.85,179.6 1584.35,186.9 1587.05,208.8 1593.45,223.4 1598.95,221.6 1599.85,179.6 1603.45,167.7 1608.05,179.6 1608.95,225.2 1616.25,175.9 1619.95,245.3 1624.45,196 1626.35,196 1630.35,229.8 1635.45,183.2 1639.05,172.3 1643.65,167.3 1649.15,169.5 1651.85,197.8 1654.25,251.7 1661.05,205.1 1664.65,200.9 1670.15,205.1 1671.95,252.6 1673.75,292.8 1679.25,216.1 1683.85,188.7 1689.35,252.6 1692.95,276.4 1694.75,216.1 1699.35,184.1 1705.75,216.1 1710.35,252.6 1715.75,302.8 1721.25,243.5 1724.05,212.4 1730.45,205.1 1734.95,200 1740.45,225.2 1742.25,249 1746.85,225.2 1752.35,252.6 1755.05,275.4 1758.75,243.5 1766.95,287.3 1770.55,225.2 1775.15,214.3 1781.55,217 1787.05,216.1 1788.85,238 1792.45,201.5 1799.75,193.3"/>
<polyline class="curve" shape-rendering="crispEdges" stroke="#000000" points="157.65,97.6 190.75,96.3 240.75,93.8 265.75,92.1 305.85,91.1 340.85,93.1 365.85,95.6 390.95,97.6 428.45,98.1 432.15,115.1 435.45,127.6 441.75,123.8 447.25,165.1 452.25,211.4 457.25,177.6 463.45,140.1 473.45,115.1 491.05,105.6 503.55,103.8 526.05,107.1 536.05,117.6 546.05,145.1 551.05,154.6 556.05,150.1 560.65,140.1 570.65,132.6 578.15,126.3 585.65,130.1 593.15,146.4 598.15,122.6 610.75,112.6 633.25,106.3 650.75,110.1 660.75,115.8 670.75,112.6 680.75,110.1 693.25,110.1 710.85,104.3 735.85,100.1 760.85,96.8 810.95,94.1 860.95,93.1 936.05,92.2 1026.65,91.8 1030.65,92.1 1070.75,92.8 1095.75,92.1 1108.25,95.6 1123.25,93.8 1133.25,95.1 1155.85,92.1 1175.85,93.1 1198.35,92.1 1200.65,91.8 1210.75,92.6 1214.75,98.2 1218.75,100.2 1226.85,97.2 1239.95,96.2 1245.95,108.3 1249.95,130.4 1252.65,170.7 1255.05,231.1 1257.65,292.6 1262.05,211 1265.15,154.6 1268.15,132.4 1272.15,129 1276.75,132.4 1279.15,170.7 1280.85,198.9 1282.25,217 1287.25,209 1289.25,231.1 1291.25,291.6 1294.35,360 1297.35,271.4 1300.35,190.8 1302.95,143.5 1306.35,140.1 1310.45,146.5 1312.45,211 1314.05,271.4 1316.05,339.9 1320.45,291.6 1323.95,322.8 1326.55,251.3 1329.55,225.1 1334.55,257.3 1337.25,190.8 1339.65,164.7 1343.65,159.2 1348.65,163.7 1353.75,174.7 1355.75,211 1358.15,271.4 1360.75,312.7 1363.35,251.3 1365.85,190.8 1368.85,170.7 1371.45,166.3 1374.85,200.9 1377.85,221.1 1382.95,233.1 1386.95,267.4 1390.95,280.5 1395.65,239.2 1398.05,291.6 1400.45,345.9 1404.05,291.6 1407.05,241.2 1410.15,215 1415.15,207.4 1417.75,231.1 1420.15,263.4 1424.25,227.1 1428.25,218.6 1434.25,218.6 1437.35,194.9 1440.35,177.8 1443.35,211 1445.35,227.1 1448.75,230.5 1452.05,223.1 1454.05,190.8 1456.05,174.7 1459.45,171.5 1462.05,182.8 1462.85,198.9 1466.15,205.3 1469.55,194.9 1471.55,176.3 1476.15,194.9 1478.55,241.2 1480.65,291.6 1483.05,341.9 1486.65,291.6 1489.05,275.4 1492.65,273.4 1494.35,252.6 1498.85,214.3 1501.65,212.4 1506.15,272.7 1510.75,197.8 1513.45,185 1519.85,181.4 1525.35,243.5 1533.55,197.8 1537.25,177.7 1545.45,175.9 1553.65,161.3 1563.65,160.4 1567.35,172.3 1571.95,159.5 1578.35,157.3 1580.15,179.6 1585.65,186.9 1588.35,208.8 1594.75,223.4 1600.25,221.6 1601.15,179.6 1604.75,167.7 1609.35,179.6 1610.25,225.2 1617.55,175.9 1621.25,245.3 1625.75,196 1627.65,196 1631.65,229.8 1636.75,183.2 1640.35,172.3 1644.95,167.3 1650.45,169.5 1653.15,197.8 1655.55,251.7 1662.35,205.1 1665.95,200.9 1671.45,205.1 1673.25,252.6 1675.05,292.8 1680.55,216.1 1685.15,188.7 1690.65,252.6 1694.25,276.4 1696.05,216.1 1700.65,184.1 1707.05,216.1 1711.65,252.6 1717.05,302.8 1722.55,243.5 1725.35,212.4 1731.75,205.1 1736.25,200 1741.75,225.2 1743.55,249 1748.15,225.2 1753.65,252.6 1756.35,275.4 1760.05,243.5 1768.25,287.3 1771.85,225.2 1776.45,214.3 1782.85,217 1788.35,216.1 1790.15,238 1793.75,201.5 1801.05,193.3"/>
<polygon shape-rendering="crispEdges" fill="#ff00ff" points="213.5,365.5 221,357.7 221,365.5"/>
<g shape-rendering="crispEdges" fill="#000">
<rect x="159" y="1274" width="1642" height="6"/>
<rect x="158.8" y="1274" width="5" height="30"/>
<rect x="275.8" y="1274" width="5" height="18"/>
<rect x="392.7" y="1274" width="5" height="30"/>
<rect x="509.7" y="1274" width="5" height="18"/>
<rect x="626.6" y="1274" width="5" height="30"/>
<rect x="743.6" y="1274" width="5" height="18"/>
<rect x="860.5" y="1274" width="5" height="30"/>
<rect x="977.5" y="1274" width="5" height="18"/>
<rect x="1094.4" y="1274" width="5" height="30"/>
<rect x="1211.4" y="1274" width="5" height="18"/>
<rect x="1328.3" y="1274" width="5" height="30"/>
<rect x="1445.2" y="1274" width="5" height="18"/>
<rect x="1562.2" y="1274" width="5" height="30"/>
<rect x="1679.2" y="1274" width="5" height="18"/>
<rect x="1796.1" y="1274" width="5" height="30"/>
</g>
</svg>
</body>
</html>
